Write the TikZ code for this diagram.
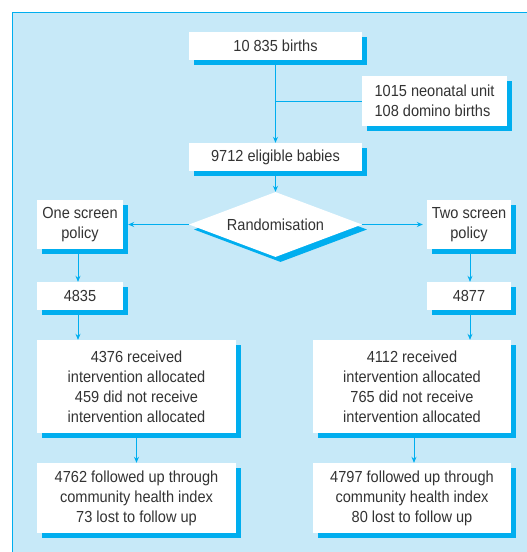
\documentclass[tikz,border=0pt]{standalone}
\usepackage{fontspec}
\setmainfont{Liberation Sans}[FakeStretch=0.91]
\usetikzlibrary{shapes.geometric,shadows,arrows.meta}
\definecolor{panel}{HTML}{C7E9F8}
\definecolor{cyanl}{HTML}{00AEEF}
\definecolor{txt}{HTML}{333333}
\begin{document}
\begin{tikzpicture}[x=1pt,y=-1pt,
  box/.style={fill=white, inner sep=2pt, align=center, text=txt,
    font=\fontsize{16}{20}\selectfont,
    general shadow={fill=cyanl, shadow xshift=5pt, shadow yshift=-5pt}},
  conn/.style={draw=cyanl, line width=0.8pt},
  arr/.style={conn, -{Stealth[length=6pt,width=5pt]}}]
\useasboundingbox (0,0) rectangle (527,552);
\fill[panel] (12,12) rectangle (528,553);
\draw[cyanl, line width=0.8pt] (12,553) -- (12,12) -- (528,12);

\node[box, minimum width=173pt, minimum height=28pt] (births) at (275.5,46) {10 835 births};
\node[box, minimum width=145pt, minimum height=50pt, align=left] (excl) at (434.5,101) {1015 neonatal unit\\108 domino births};
\node[box, minimum width=173pt, minimum height=28pt] (elig) at (275.5,157) {9712 eligible babies};
\node[box, shape=diamond, aspect=2.66, inner sep=0pt, minimum width=173pt, minimum height=65pt] (rand) at (275.5,224.5) {Randomisation};
\node[box, minimum width=86pt, minimum height=49pt] (one) at (80,224.5) {One screen\\policy};
\node[box, minimum width=84pt, minimum height=49pt] (two) at (469,224.5) {Two screen\\policy};
\node[box, minimum width=86pt, minimum height=28pt] (n1) at (80,296) {4835};
\node[box, minimum width=84pt, minimum height=28pt] (n2) at (469,296) {4877};
\node[box, minimum width=199pt, minimum height=93pt] (rec1) at (136.5,386.5) {4376 received\\intervention allocated\\459 did not receive\\intervention allocated};
\node[box, minimum width=198pt, minimum height=93pt] (rec2) at (412,386.5) {4112 received\\intervention allocated\\765 did not receive\\intervention allocated};
\node[box, minimum width=199pt, minimum height=70pt] (fu1) at (136.5,498) {4762 followed up through\\community health index\\73 lost to follow up};
\node[box, minimum width=198pt, minimum height=70pt] (fu2) at (412,498) {4797 followed up through\\community health index\\80 lost to follow up};

\draw[arr] ([yshift=-5pt]births.south) -- (elig.north);
\draw[conn] (excl.west) -- (excl.west -| births.south);
\draw[arr] ([yshift=-5pt]elig.south) -- (rand.north);
\draw[arr] (rand.west) -- ([xshift=5pt]one.east);
\draw[arr] (rand.east) -- ([xshift=-4pt]two.west);
\draw[arr] ([xshift=-2pt,yshift=-5pt]one.south) -- ([xshift=-2pt]n1.north);
\draw[arr] ([xshift=1pt,yshift=-5pt]two.south) -- ([xshift=1pt]n2.north);
\draw[arr] ([xshift=-2pt,yshift=-5pt]n1.south) -- ([xshift=-2pt]n1.south |- rec1.north);
\draw[arr] ([xshift=1pt,yshift=-5pt]n2.south) -- ([xshift=1pt]n2.south |- rec2.north);
\draw[arr] ([yshift=-5pt]rec1.south) -- (fu1.north);
\draw[arr] ([xshift=2pt,yshift=-5pt]rec2.south) -- ([xshift=2pt]fu2.north);
\end{tikzpicture}
\end{document}
